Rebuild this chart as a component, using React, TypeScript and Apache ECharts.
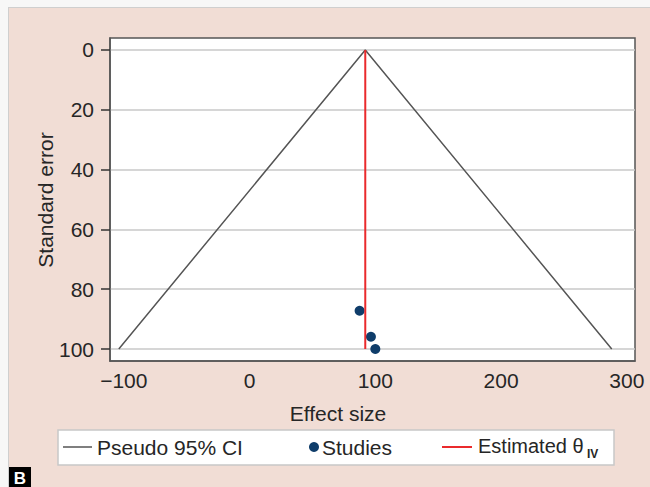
import React, { useEffect, useRef } from 'react';
import * as echarts from 'echarts';

const xTicks = [-100, 0, 100, 200, 300];
const yTicks = [0, 20, 40, 60, 80, 100];
const ciX = [-104, 92, 288];
const ciY = [100, 0, 100];
const estX = [92, 92];
const estY = [0, 100];
const studyX = [87.5, 96.5, 100];
const studyY = [87.2, 95.9, 100];

const FONT = '"Liberation Sans", Arial, Helvetica, sans-serif';
const PINK = '#f1ddd5';
const NAVY = '#0f3d6a';
const RED = '#ea2a2c';
const GRAY = '#555555';
const TXT = '#262626';
const FS = 21;

export default function App() {
  const ref = useRef<HTMLDivElement>(null);
  useEffect(() => {
    if (!ref.current) return;
    const chart = echarts.init(ref.current, undefined, { renderer: 'svg' });
    const legY = 447;
    chart.setOption({
      animation: false,
      backgroundColor: PINK,
      textStyle: { fontFamily: FONT },
      grid: {
        left: 110, top: 38, right: 15, bottom: 126,
        show: true, backgroundColor: '#ffffff', borderColor: GRAY, borderWidth: 1.5,
      },
      xAxis: {
        type: 'value', min: -111, max: 306.5,
        axisLine: { show: true, onZero: false, lineStyle: { color: GRAY, width: 1.5 } },
        axisTick: { show: false },
        splitLine: { show: false },
        axisLabel: {
          customValues: xTicks, fontSize: FS, color: TXT, margin: 9, fontFamily: FONT,
          formatter: (v: number) => (v < 0 ? '\u2212' + Math.abs(v) : String(v)),
        },
      },
      yAxis: {
        type: 'value', inverse: true, min: -4, max: 104,
        axisLine: { show: true, onZero: false, lineStyle: { color: GRAY, width: 1.5 } },
        axisTick: { show: true, customValues: yTicks, length: 9, lineStyle: { color: '#333', width: 1.5 } },
        axisLabel: { customValues: yTicks, fontSize: FS, color: TXT, margin: 16, fontFamily: FONT },
        splitLine: { show: true, lineStyle: { color: '#c8c8c8', width: 1.5 } },
      },
      series: [
        {
          name: 'Pseudo 95% CI', type: 'line', showSymbol: false, symbol: 'none',
          data: ciX.map((x, i) => [x, ciY[i]]),
          lineStyle: { color: GRAY, width: 1.5 },
        },
        {
          name: 'Estimated', type: 'line', showSymbol: false, symbol: 'none',
          data: estX.map((x, i) => [x, estY[i]]),
          lineStyle: { color: RED, width: 2 },
        },
        {
          name: 'Studies', type: 'scatter', symbolSize: 10,
          data: studyX.map((x, i) => [x, studyY[i]]),
          itemStyle: { color: NAVY, opacity: 1 },
        },
      ],
      graphic: [
        { type: 'rect', shape: { x: 0, y: 0, width: 650, height: 7 }, style: { fill: '#f7f7f7' } },
        { type: 'rect', shape: { x: 0, y: 0, width: 8, height: 487 }, style: { fill: '#f7f7f7' } },
        { type: 'rect', shape: { x: 8, y: 7, width: 642, height: 1 }, style: { fill: '#cfcfcf' } },
        { type: 'rect', shape: { x: 8, y: 7, width: 1, height: 480 }, style: { fill: '#cfcfcf' } },
        {
          type: 'text', x: 45, y: 200, rotation: Math.PI / 2,
          style: { text: 'Standard error', font: FS + 'px ' + FONT, fill: TXT, align: 'center', verticalAlign: 'middle' },
        },
        {
          type: 'text', x: 338, y: 413,
          style: { text: 'Effect size', font: FS + 'px ' + FONT, fill: TXT, align: 'center', verticalAlign: 'middle' },
        },
        { type: 'rect', shape: { x: 58, y: 430, width: 556, height: 35 }, style: { fill: '#fff', stroke: '#c8c8c8', lineWidth: 1.5 } },
        { type: 'line', shape: { x1: 63, y1: legY, x2: 92, y2: legY }, style: { stroke: GRAY, lineWidth: 1.5 } },
        {
          type: 'text', x: 97, y: legY,
          style: { text: 'Pseudo 95% CI', font: FS + 'px ' + FONT, fill: TXT, align: 'left', verticalAlign: 'middle' },
        },
        { type: 'circle', shape: { cx: 314, cy: legY, r: 5 }, style: { fill: NAVY } },
        {
          type: 'text', x: 322, y: legY,
          style: { text: 'Studies', font: FS + 'px ' + FONT, fill: TXT, align: 'left', verticalAlign: 'middle' },
        },
        { type: 'line', shape: { x1: 442, y1: legY, x2: 472, y2: legY }, style: { stroke: RED, lineWidth: 2 } },
        {
          type: 'text', x: 478, y: legY - 1,
          style: { text: 'Estimated \u03b8', font: '20px ' + FONT, fill: TXT, align: 'left', verticalAlign: 'middle' },
        },
        {
          type: 'text', x: 587, y: legY + 7,
          style: { text: 'IV', font: 'bold 12px ' + FONT, fill: TXT, align: 'left', verticalAlign: 'middle' },
        },
        { type: 'rect', shape: { x: 9, y: 467, width: 22, height: 20 }, style: { fill: '#000' } },
        {
          type: 'text', x: 20, y: 478,
          style: { text: 'B', font: 'bold 17px ' + FONT, fill: '#fff', align: 'center', verticalAlign: 'middle' },
        },
      ],
    });
    return () => chart.dispose();
  }, []);
  return <div ref={ref} style={{ position: 'fixed', left: 0, top: 0, width: 650, height: 487 }} />;
}
